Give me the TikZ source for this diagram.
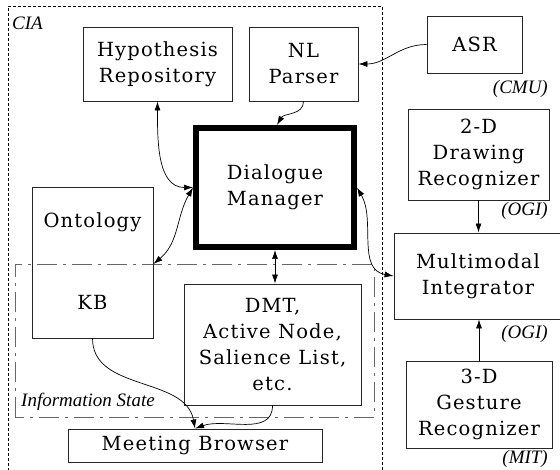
\documentclass[tikz,border=0pt]{standalone}
\usepackage{fontspec}
\setmainfont{DejaVu Serif}[LetterSpace=6]
\newfontfamily\labfont{Liberation Serif}
\usetikzlibrary{arrows.meta,calc}
\begin{document}
\begin{tikzpicture}[x=1pt,y=1pt,
  box/.style={draw=black!85,line width=0.9pt,align=center,inner sep=0pt,
    font=\fontsize{19.5}{26}\selectfont},
  plain/.style={align=center,inner sep=0pt,font=\fontsize{19.5}{26}\selectfont},
  lab/.style={inner sep=0pt,font=\labfont\itshape\fontsize{19}{22}\selectfont},
  conn/.style={line width=0.7pt},
  tip/.style={-{Latex[length=9pt,width=6pt]}},
  dtip/.style={{Latex[length=9pt,width=6pt]}-{Latex[length=9pt,width=6pt]}}
]
\useasboundingbox (0,0) rectangle (560,469);
% CIA frame
\coordinate (ciabl) at (8,-2);
\coordinate (ciatl) at (8,463);
\coordinate (ciatr) at (382,463);
\coordinate (ciabr) at (382,-2);
\draw[line width=0.7pt,dash pattern=on 3pt off 2pt] (ciabl) -- (ciatl) -- (ciatr) -- (ciabr);
\node[lab,anchor=west] (cia) at (12,446) {CIA};
% Information state frame
\coordinate (isbl) at (15,52);
\coordinate (istr) at (374,205);
\draw[black!60,line width=0.8pt,dash pattern=on 20pt off 6pt on 3pt off 6pt] (isbl) rectangle (istr);
\node[lab,anchor=west] (islab) at (21,67) {Information State};
% boxes
\node[box,minimum width=149,minimum height=74] (hyp) at (157.5,405) {Hypothesis\\Repository};
\node[box,minimum width=109,minimum height=74] (nl) at (303.5,405) {NL\\Parser};
\node[box,minimum width=95,minimum height=57] (asr) at (474.5,424.5) {ASR};
\node[lab,anchor=east] (cmu) at (548,380) {(CMU)};
\node[box,minimum width=141,minimum height=91] (twod) at (478.5,314.5) {2-D\\Drawing\\Recognizer};
\node[lab,anchor=east] (ogi1) at (548,258) {(OGI)};
\node[box,minimum width=168,minimum height=86] (multi) at (478,193) {Multimodal\\Integrator};
\node[lab,anchor=east] (ogi2) at (548,135) {(OGI)};
\node[box,minimum width=146,minimum height=87] (threed) at (479,64.5) {3-D\\Gesture\\Recognizer};
\node[lab,anchor=east] (mit) at (548,10) {(MIT)};
\node[box,draw=black,line width=6pt,minimum width=158,minimum height=119] (dm) at (275,281.5) {Dialogue\\Manager};
\node[box,minimum width=121,minimum height=151] (ont) at (92.5,206.5) {};
\node[plain] (onttext) at (92.5,247) {Ontology};
\node[plain] (kbtext) at (92.5,167) {KB};
\node[box,minimum width=177,minimum height=121] (dmt) at (272.5,124.5) {DMT,\\Active Node,\\Salience List,\\etc.};
\node[box,minimum width=254,minimum height=33] (mb) at (195,23.5) {Meeting Browser};
\coordinate (kbcorner) at (ont.east |- istr);
% connectors
\draw[conn,tip] (asr.west) to[out=180,in=0] (nl.east);
\draw[conn,tip] (nl.south) to[out=-90,in=60] ($(dm.north)+(2,0)$);
\draw[conn,dtip] (hyp.south) to[out=-90,in=180] (dm.west);
\draw[conn,dtip] (dm.west) to[out=240,in=40] (kbcorner);
\draw[conn,dtip] (dm.east) to[out=-60,in=170] (multi.west);
\draw[conn,dtip] (dm.south) -- (dm.south |- dmt.north);
\draw[conn,tip] (twod.south) -- (twod.south |- multi.north);
\draw[conn,tip] (threed.north) -- (threed.north |- multi.south);
\draw[conn,tip] (ont.south) to[out=-90,in=100] (mb.north);
\draw[conn,tip] (dmt.south) to[out=-90,in=20] (mb.north);
\end{tikzpicture}
\end{document}
